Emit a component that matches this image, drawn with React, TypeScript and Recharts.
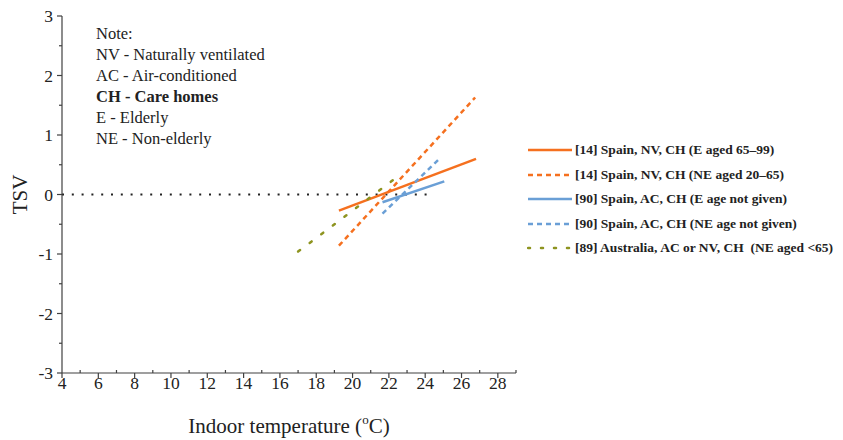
import { LineChart, Line, XAxis, YAxis } from "recharts";

const xTicks = [4, 5, 6, 7, 8, 9, 10, 11, 12, 13, 14, 15, 16, 17, 18, 19, 20, 21, 22, 23, 24, 25, 26, 27, 28, 29];
const yTicks = [-3, -2.5, -2, -1.5, -1, -0.5, 0, 0.5, 1, 1.5, 2, 2.5, 3];

const spainNvElderly = [{ x: 19.25, y: -0.27 }, { x: 26.8, y: 0.6 }];
const spainNvNonElderly = [{ x: 19.25, y: -0.86 }, { x: 26.75, y: 1.63 }];
const spainAcElderly = [{ x: 21.65, y: -0.13 }, { x: 25.05, y: 0.22 }];
const spainAcNonElderly = [{ x: 21.65, y: -0.32 }, { x: 24.85, y: 0.62 }];
const australia = [{ x: 17.0, y: -0.96 }, { x: 22.7, y: 0.35 }];
const zeroLine = [{ x: 4, y: 0 }, { x: 24.4, y: 0 }];

const notes = ["Note:", "NV - Naturally ventilated", "AC - Air-conditioned", "CH - Care homes", "E - Elderly", "NE - Non-elderly"];

const series = [
  { name: "[14] Spain, NV, CH (E aged 65\u201399)", data: spainNvElderly, color: "#f5701f", dash: undefined, cap: "butt" },
  { name: "[14] Spain, NV, CH (NE aged 20\u201365)", data: spainNvNonElderly, color: "#f5701f", dash: "5 4", cap: "butt" },
  { name: "[90] Spain, AC, CH (E age not given)", data: spainAcElderly, color: "#6a9fd6", dash: undefined, cap: "butt" },
  { name: "[90] Spain, AC, CH (NE age not given)", data: spainAcNonElderly, color: "#6a9fd6", dash: "5 4", cap: "butt" },
  { name: "[89] Australia, AC or NV, CH  (NE aged <65)", data: australia, color: "#8e9420", dash: "2.5 12", cap: "round" },
];

const FONT = "'Liberation Serif', 'Times New Roman', serif";
const AXIS = "#404040";

const XTick = ({ x, y, payload }: any) => {
  const v = payload.value;
  const major = v % 2 === 0 && v <= 28;
  return (
    <g>
      <line x1={x} x2={x} y1={y} y2={major ? y + 5 : y - 3} stroke={AXIS} strokeWidth={1.2} />
      {major && (
        <text x={x} y={y + 16} textAnchor="middle" fontSize={17.5} fontFamily={FONT} fill="#222">
          {v}
        </text>
      )}
    </g>
  );
};

const YTick = ({ x, y, payload }: any) => {
  const v = payload.value;
  const major = Number.isInteger(v);
  return (
    <g>
      <line x1={x} x2={major ? x - 5 : x - 3} y1={y} y2={y} stroke={AXIS} strokeWidth={1.2} />
      {major && (
        <text x={x - 9} y={y + 6} textAnchor="end" fontSize={17.5} fontFamily={FONT} fill="#222">
          {v}
        </text>
      )}
    </g>
  );
};

const LegendBox = () => (
  <div style={{ position: "absolute", left: 527, top: 137.7, fontFamily: FONT, fontWeight: "bold", fontSize: 13.5, color: "#222" }}>
    {series.map((s) => (
      <div key={s.name} style={{ display: "flex", alignItems: "center", height: 24.6, whiteSpace: "pre" }}>
        <svg width={46} height={10} style={{ marginRight: 2 }}>
          <line x1={1} x2={45} y1={5} y2={5} stroke={s.color} strokeWidth={2.5}
            strokeDasharray={s.dash === "2.5 12" ? "2 11" : s.dash} strokeLinecap={s.cap as any} />
        </svg>
        <span>{s.name}</span>
      </div>
    ))}
  </div>
);

export default function App() {
  return (
    <div style={{ position: "absolute", left: 0, top: 0, width: 843, height: 440, background: "#fff" }}>
      <LineChart width={843} height={440} margin={{ top: 16, right: 327, bottom: 0, left: 0 }}>
        <XAxis
          type="number"
          dataKey="x"
          domain={[4, 29]}
          ticks={xTicks}
          interval={0}
          tick={<XTick />}
          tickLine={false}
          tickSize={0}
          tickMargin={0}
          axisLine={{ stroke: AXIS, strokeWidth: 1.2 }}
          height={67}
          allowDataOverflow
          label={{
            content: ({ viewBox }: any) => (
              <text x={viewBox.x + viewBox.width / 2} y={viewBox.y + 60} textAnchor="middle" fontSize={21} fontFamily={FONT} fill="#222">
                Indoor temperature (
                <tspan fontSize={13} dy={-9}>o</tspan>
                <tspan dy={9}>C)</tspan>
              </text>
            ),
          }}
        />
        <YAxis
          type="number"
          dataKey="y"
          domain={[-3, 3]}
          ticks={yTicks}
          interval={0}
          tick={<YTick />}
          tickLine={false}
          tickSize={0}
          tickMargin={0}
          axisLine={{ stroke: AXIS, strokeWidth: 1.2 }}
          width={62}
          allowDataOverflow
          label={{
            content: ({ viewBox }: any) => (
              <text x={27} y={viewBox.y + viewBox.height / 2} textAnchor="middle" fontSize={21} fontFamily={FONT} fill="#222"
                transform={`rotate(-90, 27, ${viewBox.y + viewBox.height / 2})`}>
                TSV
              </text>
            ),
          }}
        />
        <Line data={zeroLine} dataKey="y" stroke="#222" strokeWidth={2} strokeDasharray="2 7.8" dot={false}
          isAnimationActive={false} legendType="none" name="zero" />
        {series.map((s) => (
          <Line key={s.name} data={s.data} dataKey="y" name={s.name} stroke={s.color} strokeWidth={2.5}
            strokeDasharray={s.dash} strokeLinecap={s.cap as any} dot={false} isAnimationActive={false} />
        ))}
      </LineChart>
      <LegendBox />
      <div style={{ position: "absolute", left: 96, top: 22.5, fontFamily: FONT, fontSize: 16.5, lineHeight: "21.1px", color: "#222" }}>
        {notes.map((n) => (
          <div key={n} style={{ fontWeight: n.startsWith("CH") ? "bold" : "normal" }}>{n}</div>
        ))}
      </div>
    </div>
  );
}
